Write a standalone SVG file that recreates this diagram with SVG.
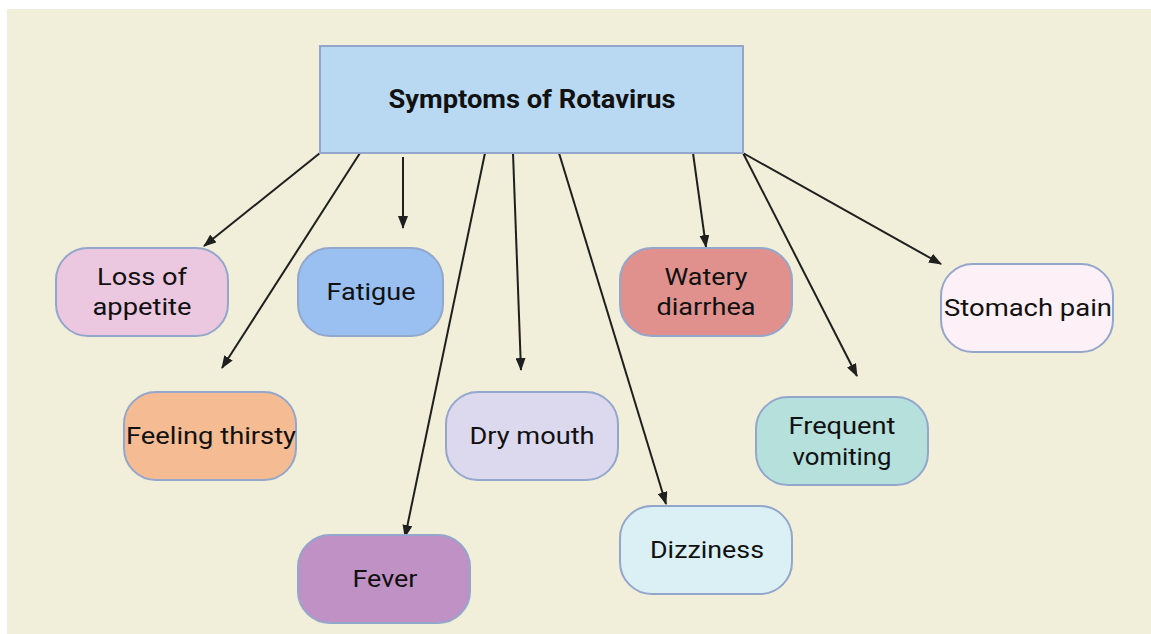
<svg xmlns="http://www.w3.org/2000/svg" width="1151" height="634" viewBox="0 0 1151 634">
<defs>
<marker id="ah" viewBox="0 0 13 10" refX="12" refY="5" markerWidth="13" markerHeight="10" markerUnits="userSpaceOnUse" orient="auto">
<path d="M0,0 L13,5 L0,10 Z" fill="#1f1f1f"/>
</marker>
<style>
.n{stroke:#93a6cc;stroke-width:2}
.t{font-family:Roboto,"Liberation Sans",sans-serif;font-size:24px;fill:#111;text-anchor:middle}
.c line{stroke:#1f1f1f;stroke-width:2;marker-end:url(#ah)}
</style>
</defs>
<rect width="1151" height="634" fill="#ffffff"/>
<rect x="7" y="9" width="1144" height="625" fill="#f1eed9"/>
<g class="c" id="connectors">
<line x1="320" y1="153" x2="204" y2="246"/>
<line x1="360" y1="153" x2="222" y2="368"/>
<line x1="403" y1="157" x2="403" y2="228"/>
<line x1="485" y1="153" x2="405" y2="537"/>
<line x1="513" y1="153" x2="521" y2="370"/>
<line x1="559" y1="153" x2="666" y2="504"/>
<line x1="693" y1="153" x2="706" y2="247"/>
<line x1="743" y1="153" x2="857" y2="376"/>
<line x1="743" y1="153" x2="941" y2="264"/>
</g>
<g id="title">
<rect class="n" x="320" y="46" width="423" height="107" fill="#b9d9f3"/>
<text x="532" y="108" textLength="287" lengthAdjust="spacingAndGlyphs" style="font-family:Roboto,'Liberation Sans',sans-serif;font-size:26px;font-weight:bold;fill:#111;text-anchor:middle">Symptoms of Rotavirus</text>
</g>
<g id="loss">
<rect class="n" x="56" y="248" width="172" height="88" rx="32" fill="#ecc8e0"/>
<text class="t" x="142" y="285" textLength="90" lengthAdjust="spacingAndGlyphs">Loss of</text>
<text class="t" x="142" y="315" textLength="99" lengthAdjust="spacingAndGlyphs">appetite</text>
</g>
<g id="fatigue">
<rect class="n" x="298" y="248" width="145" height="88" rx="32" fill="#99c0f0"/>
<text class="t" x="371" y="300" textLength="89" lengthAdjust="spacingAndGlyphs">Fatigue</text>
</g>
<g id="watery">
<rect class="n" x="620" y="248" width="172" height="88" rx="32" fill="#e0918e"/>
<text class="t" x="706" y="285" textLength="83" lengthAdjust="spacingAndGlyphs">Watery</text>
<text class="t" x="706" y="315" textLength="99" lengthAdjust="spacingAndGlyphs">diarrhea</text>
</g>
<g id="stomach">
<rect class="n" x="941" y="264" width="172" height="88" rx="32" fill="#fdf0f7"/>
<text class="t" x="1028" y="316" textLength="168" lengthAdjust="spacingAndGlyphs">Stomach pain</text>
</g>
<g id="thirsty">
<rect class="n" x="124" y="392" width="172" height="88" rx="32" fill="#f5bb92"/>
<text class="t" x="211" y="444" textLength="170" lengthAdjust="spacingAndGlyphs">Feeling thirsty</text>
</g>
<g id="drymouth">
<rect class="n" x="446" y="392" width="172" height="88" rx="32" fill="#dcd8ee"/>
<text class="t" x="532" y="444" textLength="125" lengthAdjust="spacingAndGlyphs">Dry mouth</text>
</g>
<g id="vomiting">
<rect class="n" x="756" y="397" width="172" height="88" rx="32" fill="#b5e0dc"/>
<text class="t" x="842" y="434" textLength="107" lengthAdjust="spacingAndGlyphs">Frequent</text>
<text class="t" x="842" y="465" textLength="99" lengthAdjust="spacingAndGlyphs">vomiting</text>
</g>
<g id="dizziness">
<rect class="n" x="620" y="506" width="172" height="88" rx="32" fill="#daf0f4"/>
<text class="t" x="707" y="558" textLength="114" lengthAdjust="spacingAndGlyphs">Dizziness</text>
</g>
<g id="fever">
<rect class="n" x="298" y="535" width="172" height="88" rx="32" fill="#c091c4"/>
<text class="t" x="385" y="587" textLength="65" lengthAdjust="spacingAndGlyphs">Fever</text>
</g>
</svg>
